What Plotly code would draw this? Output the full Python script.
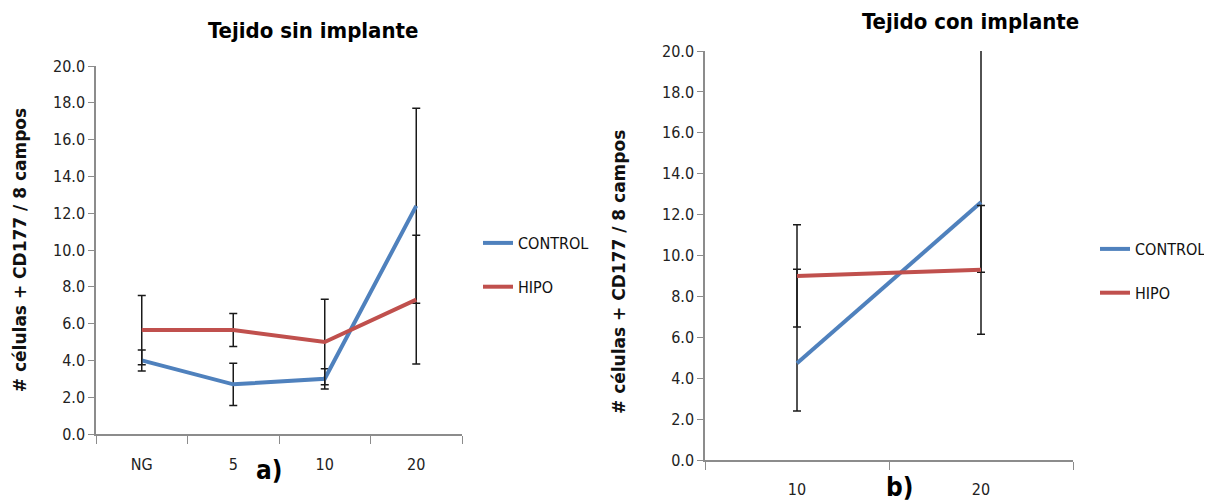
import plotly.graph_objects as go

# ---- Data ----
cats_a = ["NG", "5", "10", "20"]
control_a = [4.0, 2.7, 3.0, 12.4]
control_a_err = [0.57, 1.15, 0.55, 5.3]
hipo_a = [5.65, 5.65, 5.0, 7.3]
hipo_a_err = [1.88, 0.9, 2.33, 3.5]

cats_b = ["10", "20"]
control_b = [4.73, 12.6]
control_b_err_plus = [4.6, 8.0]
control_b_err_minus = [2.33, 3.42]
hipo_b = [9.0, 9.3]
hipo_b_err = [2.5, 3.15]

y_ticks = [0, 2, 4, 6, 8, 10, 12, 14, 16, 18, 20]

BLUE = "#4F81BD"
RED = "#C0504D"
FONT = "DejaVu Sans Condensed, DejaVu Sans, sans-serif"
YTITLE = "# células + CD177 / 8 campos"
W, H = 1212, 504
OFF = 8  # page body margin offset

def fx(px):
    return (px - OFF) / W

def fy(py):
    return 1 - (py - OFF) / H

err_style = dict(color="#1a1a1a", thickness=1.5, width=4)

fig = go.Figure()
fig.add_trace(go.Scatter(x=cats_a, y=control_a, mode="lines", name="CONTROL",
                         line=dict(color=BLUE, width=4),
                         error_y=dict(type="data", array=control_a_err, **err_style),
                         xaxis="x", yaxis="y", legend="legend", legendgroup="c1"))
fig.add_trace(go.Scatter(x=cats_a, y=hipo_a, mode="lines", name="HIPO",
                         line=dict(color=RED, width=4),
                         error_y=dict(type="data", array=hipo_a_err, **err_style),
                         xaxis="x", yaxis="y", legend="legend", legendgroup="h1"))
fig.add_trace(go.Scatter(x=cats_b, y=control_b, mode="lines", name="CONTROL",
                         line=dict(color=BLUE, width=4),
                         error_y=dict(type="data", symmetric=False, array=control_b_err_plus,
                                      arrayminus=control_b_err_minus, **err_style),
                         xaxis="x2", yaxis="y2", legend="legend2", legendgroup="c2"))
fig.add_trace(go.Scatter(x=cats_b, y=hipo_b, mode="lines", name="HIPO",
                         line=dict(color=RED, width=4),
                         error_y=dict(type="data", array=hipo_b_err, **err_style),
                         xaxis="x2", yaxis="y2", legend="legend2", legendgroup="h2"))

tick_font = dict(family=FONT, size=16, color="#222")
axis_common = dict(showline=True, linecolor="#8c8c8c", linewidth=1.5, showgrid=False,
                   zeroline=False, ticks="outside", tickcolor="#8c8c8c", ticklen=6,
                   tickfont=tick_font, automargin=False)

yaxis_common = dict(axis_common, range=[0, 20], tickvals=y_ticks, tickformat=".1f")
ytitle_font = dict(family="DejaVu Sans, Verdana, sans-serif", size=17, color="#111", weight="bold")

fig.update_layout(
    width=W, height=H,
    margin=dict(l=0, r=0, t=0, b=0, autoexpand=False),
    plot_bgcolor="white", paper_bgcolor="white",
    font=dict(family=FONT, size=16, color="#222"),
    xaxis=dict(axis_common, domain=[fx(96), fx(462)], anchor="y", type="category",
               range=[-0.5, 3.5], tickson="boundaries", ticklen=8, ticklabelstandoff=15),
    yaxis=dict(yaxis_common, domain=[fy(434), fy(66)], anchor="x",
               title=dict(text=YTITLE, standoff=22, font=ytitle_font)),
    xaxis2=dict(axis_common, domain=[fx(705), fx(1073)], anchor="y2", type="category",
                range=[-0.5, 1.5], tickson="boundaries", ticklen=8, ticklabelstandoff=14),
    yaxis2=dict(yaxis_common, domain=[fy(460), fy(51)], anchor="x2"),
    legend=dict(x=fx(478), y=fy(226), xanchor="left", yanchor="top",
                font=dict(family=FONT, size=16, color="#111"),
                tracegroupgap=20, traceorder="grouped", bgcolor="rgba(0,0,0,0)"),
    legend2=dict(x=fx(1095), y=fy(232), xanchor="left", yanchor="top",
                 font=dict(family=FONT, size=16, color="#111"),
                 tracegroupgap=20, traceorder="grouped", bgcolor="rgba(0,0,0,0)"),
    showlegend=True,
)

# right panel y-axis title (placed lower, as in the reference)
fig.add_annotation(text=YTITLE, x=fx(619), y=fy(272), xref="paper", yref="paper",
                   showarrow=False, textangle=-90, font=ytitle_font,
                   xanchor="center", yanchor="middle")

title_font = dict(family=FONT, size=22, color="#000", weight="bold")
fig.add_annotation(text="Tejido sin implante", x=fx(313), y=fy(31), xref="paper", yref="paper",
                   showarrow=False, font=title_font, xanchor="center", yanchor="middle")
fig.add_annotation(text="Tejido con implante", x=fx(970), y=1, xref="paper", yref="paper",
                   showarrow=False, font=title_font, xanchor="center", yanchor="top",
                   borderpad=0)
fig.add_annotation(text="a)", x=fx(269), y=fy(470), xref="paper", yref="paper",
                   showarrow=False, font=dict(family=FONT, size=26, color="#000", weight="bold"),
                   xanchor="center", yanchor="middle")
fig.add_annotation(text="b)", x=fx(899), y=fy(487), xref="paper", yref="paper",
                   showarrow=False, font=dict(family=FONT, size=26, color="#000", weight="bold"),
                   xanchor="center", yanchor="middle")

fig.write_html("out.html")
